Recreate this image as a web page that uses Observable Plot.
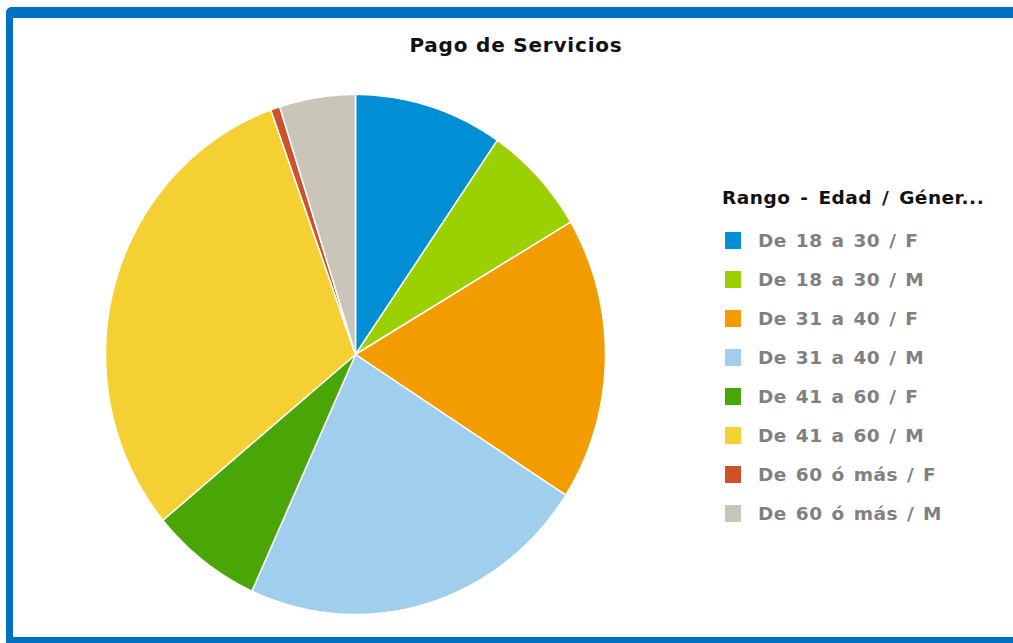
<!DOCTYPE html>
<html>
<head>
<meta charset="utf-8">
<script src="https://cdn.jsdelivr.net/npm/d3@7"></script>
<script src="https://cdn.jsdelivr.net/npm/@observablehq/plot@0.6"></script>
<style>
  html, body { margin: 0; padding: 0; background: #fff; }
  body { width: 1013px; height: 643px; overflow: hidden; position: relative;
         font-family: "DejaVu Sans", sans-serif; }
  #frame { position: absolute; left: 6px; top: 7px; width: 1100px; height: 640px; box-sizing: border-box;
           border: 0 solid #0070C0; border-left-width: 7px; border-top-width: 11px; border-bottom-width: 10px;
           border-radius: 6px 0 0 6px; }
  #title { position: absolute; left: 316px; width: 400px; top: 33px; text-align: center;
           font-weight: bold; font-size: 20px; color: #111; letter-spacing: 0.8px; line-height: 24px; }
  #chart { position: absolute; left: 104px; top: 93px; }
  #legend { position: absolute; left: 722px; top: 186px; }
  #legend .lt { font-weight: bold; font-size: 18.5px; color: #111; letter-spacing: 0.5px; word-spacing: 3px;
                line-height: 24px; height: 24px; white-space: nowrap; }
  #legend .item { position: relative; height: 39px; }
  #legend .sw { position: absolute; left: 3px; top: 0; width: 16px; height: 17px; }
  #legend .tx { position: absolute; left: 36px; top: -3px; font-weight: bold; font-size: 18.5px; color: #808080;
                letter-spacing: 0.5px; word-spacing: 2px; line-height: 24px; white-space: nowrap; }
</style>
</head>
<body>
<div id="frame"></div>
<div id="title"></div>
<div id="chart"></div>
<div id="legend"></div>
<script>
const chartTitle = "Pago de Servicios";
const legendTitle = "Rango - Edad / Géner...";
const categories = [
  "De 18 a 30 / F",
  "De 18 a 30 / M",
  "De 31 a 40 / F",
  "De 31 a 40 / M",
  "De 41 a 60 / F",
  "De 41 a 60 / M",
  "De 60 ó más / F",
  "De 60 ó más / M"
];
const values = [9.6, 6.9, 17.6, 22.7, 7.2, 30.5, 0.6, 4.9];
const colors = ["#008FD5", "#9BD100", "#F39C00", "#A0CFED", "#4AA607", "#F5D033", "#D0502A", "#C9C5B8"];

document.getElementById("title").textContent = chartTitle;

// Build slice polygons from the data via d3.pie (angles clockwise from 12 o'clock)
const arcs = d3.pie().sort(null).value(d => d.v)(categories.map((c, i) => ({c, v: values[i]})));
const pts = [];
arcs.forEach(a => {
  const key = a.data.c;
  pts.push({key, x: 0, y: 0});
  const n = Math.max(2, Math.ceil((a.endAngle - a.startAngle) / (Math.PI / 360)));
  for (let k = 0; k <= n; k++) {
    const t = a.startAngle + (a.endAngle - a.startAngle) * k / n;
    pts.push({key, x: Math.sin(t), y: Math.cos(t)});
  }
});

const plot = Plot.plot({
  width: 502,
  height: 522,
  margin: 1,
  x: {domain: [-1, 1], axis: null},
  y: {domain: [-1, 1], axis: null},
  color: {domain: categories, range: colors},
  marks: [
    Plot.line(pts, {x: "x", y: "y", z: "key", fill: "key", stroke: "white", strokeWidth: 1.5,
                    strokeLinejoin: "round", curve: "linear-closed"})
  ]
});
document.getElementById("chart").appendChild(plot);

// Legend
const lg = document.getElementById("legend");
const lt = document.createElement("div");
lt.className = "lt";
lt.textContent = legendTitle;
lg.appendChild(lt);
const spacer = document.createElement("div");
spacer.style.height = "22px";
lg.appendChild(spacer);
categories.forEach((c, i) => {
  const it = document.createElement("div");
  it.className = "item";
  const sw = document.createElement("div");
  sw.className = "sw";
  sw.style.background = colors[i];
  const tx = document.createElement("div");
  tx.className = "tx";
  tx.textContent = c;
  it.appendChild(sw);
  it.appendChild(tx);
  lg.appendChild(it);
});
</script>
</body>
</html>
